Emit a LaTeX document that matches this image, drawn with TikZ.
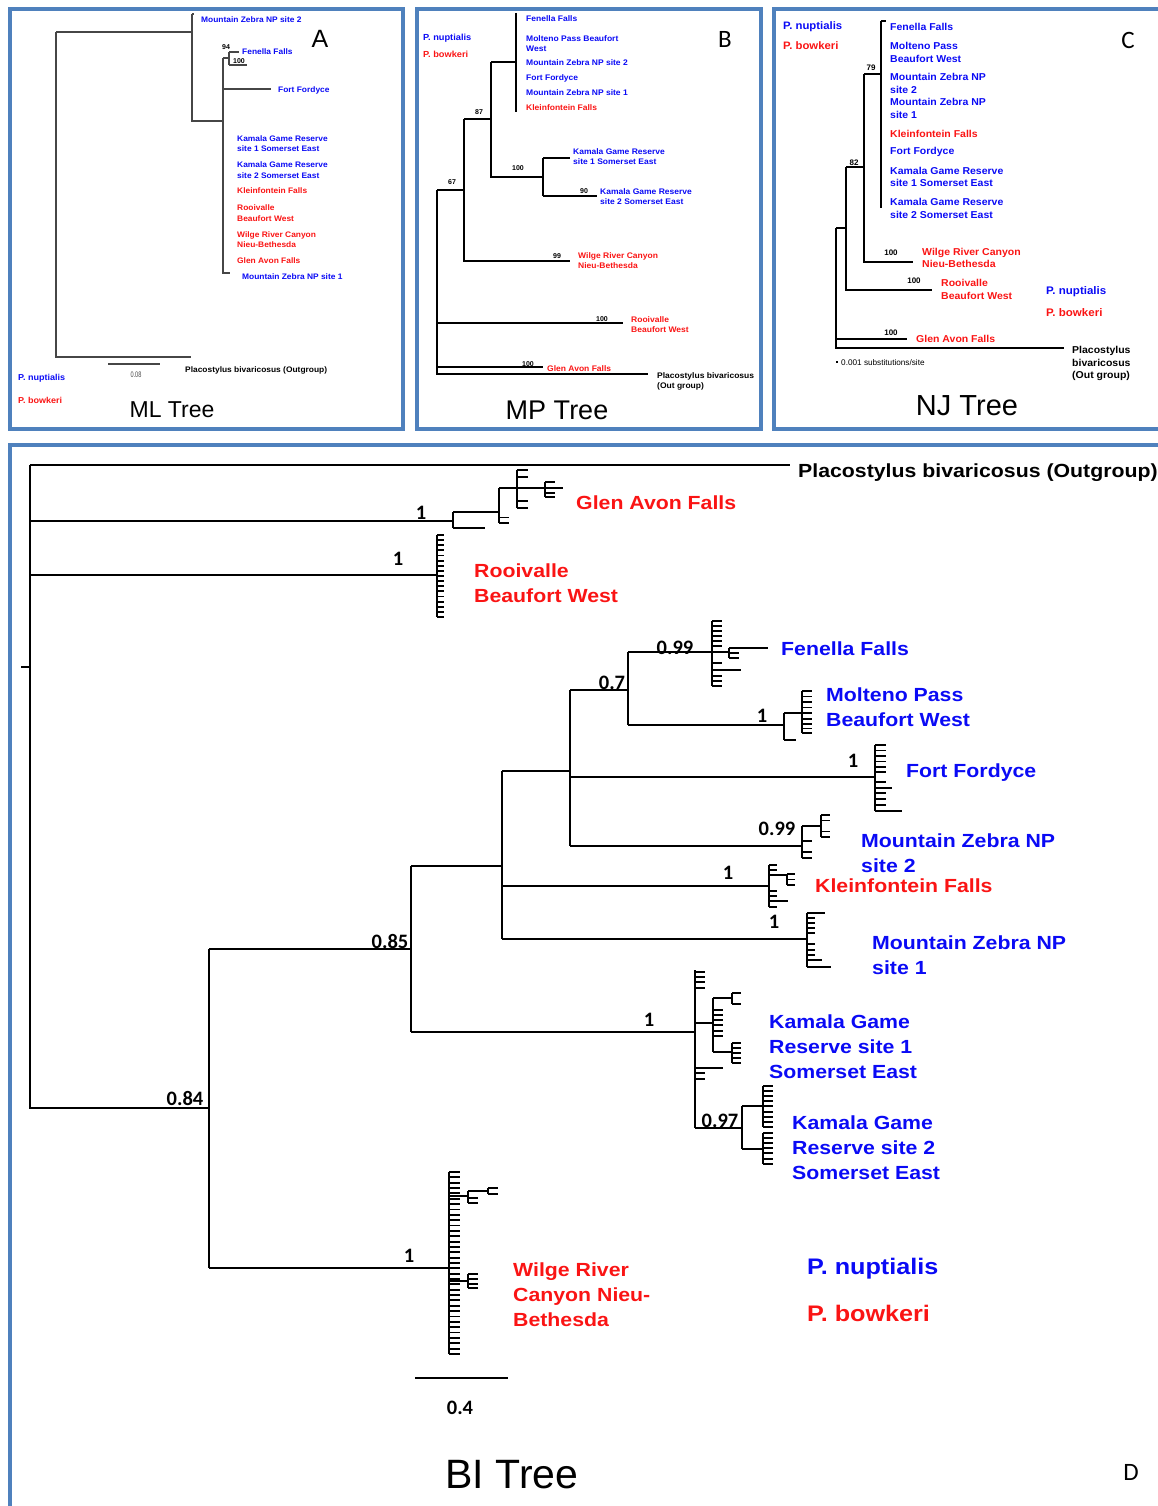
\documentclass[tikz,border=0pt]{standalone}
\usepackage{fontspec}
\setmainfont{Liberation Sans}
\newfontfamily\carlito{Carlito}
\newfontfamily\widesans[FakeStretch=1.12]{Liberation Sans}
\newfontfamily\smallsans[FakeStretch=1.05]{Liberation Sans}
\definecolor{nupblue}{RGB}{10,10,245}
\definecolor{bowred}{RGB}{250,20,20}
\definecolor{frameblue}{RGB}{79,129,189}
\definecolor{mlgray}{RGB}{70,70,70}
\newcommand\setfs[2]{\fontsize{#1}{#2}\selectfont}
% short horizontal ticks of a comb: x start, x end, list of y
\newcommand\tickset[3]{\foreach \yy in {#3}{\draw (#1,\yy) -- (#2,\yy);}}

\begin{document}
\begin{tikzpicture}[x=1pt,y=-1pt,
  frame/.style={draw=frameblue,line width=4pt},
  nup/.style={text=nupblue},
  bow/.style={text=bowred},
  blk/.style={text=black},
  labA/.style={anchor=west,inner sep=0pt,align=left,font=\smallsans\bfseries\setfs{8}{10.5}},
  labB/.style={anchor=west,inner sep=0pt,align=left,font=\smallsans\bfseries\setfs{8.1}{10}},
  labC/.style={anchor=west,inner sep=0pt,align=left,font=\smallsans\bfseries\setfs{10}{12.5}},
  labD/.style={anchor=west,inner sep=0pt,align=left,font=\widesans\bfseries\setfs{19}{25.3}},
  supS/.style={inner sep=0pt,font=\bfseries\setfs{7}{8}},
  supC/.style={inner sep=0pt,font=\bfseries\setfs{8}{9}},
  supD/.style={inner sep=0pt,font=\carlito\bfseries\setfs{20.5}{22}},
  treetitle/.style={inner sep=0pt,font=\setfs{23}{26}},
  panel/.style={inner sep=0pt,font=\setfs{25}{28}},
  panelC/.style={inner sep=0pt,font=\carlito\setfs{25}{28}},
  thin tree/.style={line width=1.1pt},
  bold tree/.style={line width=1.9pt},
]
\useasboundingbox (0,0) rectangle (1157,1506);

% ---------- panel frames ----------
\draw[frame] (10,9) rectangle (403,429);
\draw[frame] (417,9) rectangle (761,429);
\draw[frame] (1170,9) -- (774,9) -- (774,429) -- (1170,429);
\draw[frame] (10,1520) -- (10,445) -- (1170,445);

% ---------- A: ML tree ----------
\begin{scope}[thin tree,draw=mlgray]
  \coordinate (aR) at (56,32);
  \coordinate (aN1) at (192,32);
  \coordinate (aN2) at (223,121);
  \draw (aR) -- (aN1);
  \draw (aR) -- (56,357) -- (191,357);
  \draw (192,14) -- (194,14);
  \draw (192,14) -- (192,121) -- (aN2);
  \draw (223,58) -- (223,273) -- (230,273);
  \draw (223,58) -- (229,58);
  \draw (229,52) -- (229,65);
  \draw (229,52) -- (239,52);
  \draw (229,65) -- (247,65);
  \draw (223,89) -- (271,89);
  \draw (108,364) -- (160,364);
\end{scope}
\node[labA,nup] (aMZ2) at (201,20) {Mountain Zebra NP site 2};
\node[supS] (a94) at (226,47) {94};
\node[labA,nup] (aFen) at (242,52) {Fenella Falls};
\node[supS] (a100) at (239,61.5) {100};
\node[labA,nup] (aFort) at (278,90) {Fort Fordyce};
\node[labA,nup] (aKam1) at (237,143.5) {Kamala Game Reserve\\site 1 Somerset East};
\node[labA,nup] (aKam2) at (237,170) {Kamala Game Reserve\\site 2 Somerset East};
\node[labA,bow] (aKle) at (237,191) {Kleinfontein Falls};
\node[labA,bow] (aRoo) at (237,213) {Rooivalle\\Beaufort West};
\node[labA,bow] (aWil) at (237,239.5) {Wilge River Canyon\\Nieu-Bethesda};
\node[labA,bow] (aGlen) at (237,261) {Glen Avon Falls};
\node[labA,nup] (aMZ1) at (242,277) {Mountain Zebra NP site 1};
\node[inner sep=0pt,font=\setfs{8}{9},text=mlgray,xscale=0.7] (aScale) at (136,375) {0.08};
\node[labA,blk] (aOut) at (185,370) {Placostylus bivaricosus (Outgroup)};
\node[labA,nup,font=\smallsans\bfseries\setfs{8.6}{10}] (aLegN) at (18,378) {P. nuptialis};
\node[labA,bow,font=\smallsans\bfseries\setfs{8.6}{10}] (aLegB) at (18,400) {P. bowkeri};
\node[treetitle] (aTitle) at (172,410) {ML Tree};
\node[panel] (aLet) at (320,39) {A};

% ---------- B: MP tree ----------
\begin{scope}[thin tree]
  \draw (516,13) -- (516,112);
  \draw (491,62) -- (516,62);
  \draw (491,62) -- (491,177) -- (543,177);
  \draw (543,158) -- (543,196);
  \draw (543,158) -- (570,158);
  \draw (543,196) -- (597,196);
  \draw (464,119) -- (491,119);
  \draw (464,119) -- (464,261) -- (570,261);
  \draw (437,190) -- (464,190);
  \draw (437,190) -- (437,374) -- (648,374);
  \draw (437,323) -- (623,323);
  \draw (437,367) -- (543,367);
\end{scope}
\node[supS] (b87) at (479,112) {87};
\node[supS] (b100a) at (518,168) {100};
\node[supS] (b90) at (584,191) {90};
\node[supS] (b99) at (557,256) {99};
\node[supS] (b67) at (452,182) {67};
\node[supS] (b100b) at (602,319) {100};
\node[supS] (b100c) at (528,364) {100};
\node[labB,nup] (bFen) at (526,19) {Fenella Falls};
\node[labB,nup] (bMol) at (526,44) {Molteno Pass Beaufort\\West};
\node[labB,nup] (bMZ2) at (526,63) {Mountain Zebra NP site 2};
\node[labB,nup] (bFort) at (526,78) {Fort Fordyce};
\node[labB,nup] (bMZ1) at (526,93) {Mountain Zebra NP site 1};
\node[labB,bow] (bKle) at (526,108) {Kleinfontein Falls};
\node[labB,nup] (bKam1) at (573,157) {Kamala Game Reserve\\site 1 Somerset East};
\node[labB,nup] (bKam2) at (600,196.5) {Kamala Game Reserve\\site 2 Somerset East};
\node[labB,bow] (bWil) at (578,261) {Wilge River Canyon\\Nieu-Bethesda};
\node[labB,bow] (bRoo) at (631,325) {Rooivalle\\Beaufort West};
\node[labB,bow] (bGlen) at (547,369) {Glen Avon Falls};
\node[labB,blk] (bOut) at (657,381) {Placostylus bivaricosus\\(Out group)};
\node[labB,nup,font=\smallsans\bfseries\setfs{8.8}{10}] (bLegN) at (423,38) {P. nuptialis};
\node[labB,bow,font=\smallsans\bfseries\setfs{8.8}{10}] (bLegB) at (423,54) {P. bowkeri};
\node[treetitle,font=\setfs{27}{30}] (bTitle) at (557,410) {MP Tree};
\node[panelC] (bLet) at (725,39) {B};

% ---------- C: NJ tree ----------
\begin{scope}[thin tree]
  \draw (881,21) -- (886,21);
  \draw (881,21) -- (881,208);
  \draw (864,74) -- (881,74);
  \draw (864,74) -- (864,262) -- (913,262);
  \draw (846,167) -- (864,167);
  \draw (846,167) -- (846,290) -- (932,290);
  \draw (836,228) -- (846,228);
  \draw (836,228) -- (836,348) -- (1064,348);
  \draw (836,339) -- (907,339);
  \draw (836,362) -- (838,362);
\end{scope}
\node[supC] (c79) at (871,68) {79};
\node[supC] (c82) at (854,163) {82};
\node[supC] (c100a) at (891,253) {100};
\node[supC] (c100b) at (914,281) {100};
\node[supC] (c100c) at (891,333) {100};
\node[labC,nup] (cFen) at (890,27) {Fenella Falls};
\node[labC,nup] (cMol) at (890,52.5) {Molteno Pass\\Beaufort West};
\node[labC,nup] (cMZ2) at (890,83.5) {Mountain Zebra NP\\site 2};
\node[labC,nup] (cMZ1) at (890,108.5) {Mountain Zebra NP\\site 1};
\node[labC,bow] (cKle) at (890,134) {Kleinfontein Falls};
\node[labC,nup] (cFort) at (890,152) {Fort Fordyce};
\node[labC,nup] (cKam1) at (890,177) {Kamala Game Reserve\\site 1 Somerset East};
\node[labC,nup] (cKam2) at (890,208.5) {Kamala Game Reserve\\site 2 Somerset East};
\node[labC,bow] (cWil) at (922,258) {Wilge River Canyon\\Nieu-Bethesda};
\node[labC,bow] (cRoo) at (941,289.5) {Rooivalle\\Beaufort West};
\node[labC,bow] (cGlen) at (916,339) {Glen Avon Falls};
\node[labC,blk] (cOut) at (1072,363.5) {Placostylus\\bivaricosus\\(Out group)};
\node[anchor=west,inner sep=0pt,font=\setfs{8.2}{9}] (cScale) at (841,363) {0.001 substitutions/site};
\node[labC,nup,font=\smallsans\bfseries\setfs{10.8}{12}] (cLegN) at (783,27) {P. nuptialis};
\node[labC,bow,font=\smallsans\bfseries\setfs{10.8}{12}] (cLegB) at (783,46) {P. bowkeri};
\node[labC,nup,font=\smallsans\bfseries\setfs{11}{12}] (cLegN2) at (1046,292) {P. nuptialis};
\node[labC,bow,font=\smallsans\bfseries\setfs{11}{12}] (cLegB2) at (1046,313) {P. bowkeri};
\node[treetitle,font=\setfs{29}{32}] (cTitle) at (967,406) {NJ Tree};
\node[panelC] (cLet) at (1128,40) {C};

% ---------- D: BI tree ----------
\begin{scope}[bold tree]
  % backbone
  \coordinate (dRoot) at (30,465);
  \coordinate (d084) at (209,1108);
  \coordinate (d085) at (411,949);
  \coordinate (dIn) at (502,866);
  \coordinate (d07) at (570,771);
  \coordinate (d099) at (628,690);
  \draw (21,667) -- (30,667);
  \draw (dRoot) -- (30,1108) -- (d084);
  \draw (dRoot) -- (790,465);
  \draw (209,949) -- (209,1268);
  \draw (209,949) -- (d085);
  \draw (411,866) -- (411,1032);
  \draw (411,866) -- (dIn);
  \draw (502,771) -- (502,939);
  \draw (502,771) -- (d07);
  \draw (570,690) -- (570,846);
  \draw (570,690) -- (d099);
  \draw (628,652) -- (628,725);

  % Glen Avon Falls
  \draw (30,521) -- (453,521);
  \draw (453,512) -- (453,528);
  \draw (453,528) -- (485,528);
  \draw (453,512) -- (499,512);
  \draw (499,488) -- (499,523);
  \tickset{499}{509}{517.5,523}
  \draw (499,488) -- (517,488);
  \draw (517,470) -- (517,508);
  \tickset{517}{528}{470,477,501,508}
  \draw (517,488) -- (563,488);
  \draw (545,482) -- (545,497);
  \tickset{545}{555}{482,493,497}

  % Rooivalle Beaufort West
  \draw (30,575) -- (437,575);
  \draw (437,535) -- (437,617);
  \foreach \i in {0,...,16} \draw (437,535+\i*5.125) -- (444,535+\i*5.125);

  % Fenella Falls
  \draw (628,652) -- (712,652);
  \draw (712,621) -- (712,686);
  \tickset{712}{722}{621,626,631,636,641,646,663,676,681,686}
  \draw (712,670) -- (741,670);
  \draw (712,652) -- (729,652);
  \draw (729,648) -- (729,658);
  \draw (729,648) -- (768,648);
  \tickset{729}{739}{653,658}

  % Molteno Pass Beaufort West
  \draw (628,725) -- (784,725);
  \draw (784,713) -- (784,740);
  \draw (784,713) -- (802,713);
  \draw (784,740) -- (796,740);
  \draw (802,691) -- (802,733);
  \tickset{802}{812}{691,696.5,702,707.5,713,719,724,728.5,733}

  % Fort Fordyce
  \draw (570,777) -- (875,777);
  \draw (875,745) -- (875,811);
  \tickset{875}{886}{745,750.5,756,761.5,767,772,782,793,799,805}
  \draw (875,788) -- (892,788);
  \draw (875,811) -- (902,811);

  % Mountain Zebra NP site 2
  \draw (570,846) -- (802,846);
  \draw (802,826) -- (802,858);
  \draw (802,826) -- (821,826);
  \draw (821,815) -- (821,837);
  \tickset{821}{830}{815,820.5,831.5,837}
  \tickset{802}{812}{841,852,858}

  % Kleinfontein Falls
  \draw (502,886) -- (769,886);
  \draw (769,865) -- (769,907);
  \tickset{769}{777}{865,870,891,896,907}
  \draw (769,901) -- (788,901);
  \draw (769,875) -- (787,875);
  \draw (787,874) -- (787,885);
  \tickset{787}{795}{874,879.5,885}

  % Mountain Zebra NP site 1
  \draw (502,939) -- (807,939);
  \draw (807,913) -- (807,967);
  \draw (807,913) -- (825,913);
  \tickset{807}{815}{918,923,928,933,944,950,955}
  \draw (807,960) -- (822,960);
  \draw (807,967) -- (831,967);

  % Kamala Game Reserve sites 1 and 2
  \draw (411,1032) -- (695,1032);
  \draw (695,970) -- (695,1128);
  \tickset{695}{705}{972,977,982,988,1073,1079}
  \draw (695,1068) -- (723,1068);
  \draw (695,1023) -- (713,1023);
  \draw (713,998) -- (713,1052);
  \draw (713,998) -- (732,998);
  \draw (732,993) -- (732,1004);
  \tickset{732}{741}{993,1004}
  \tickset{713}{723}{1010,1015,1020,1025,1031,1036}
  \draw (713,1052) -- (732,1052);
  \draw (732,1043) -- (732,1063);
  \tickset{732}{741}{1043,1048,1053,1058,1063}
  \draw (695,1128) -- (742,1128);
  \draw (742,1106) -- (742,1149);
  \draw (742,1106) -- (763,1106);
  \draw (763,1086) -- (763,1127);
  \tickset{763}{773}{1086,1091,1096,1101,1106,1112,1117,1122,1127}
  \draw (742,1149) -- (763,1149);
  \draw (763,1133) -- (763,1164);
  \tickset{763}{773}{1133,1138,1143,1148,1153,1159,1164}

  % Wilge River Canyon Nieu-Bethesda
  \draw (209,1268) -- (449,1268);
  \draw (449,1172) -- (449,1354);
  \foreach \i in {0,...,34} \draw (449,1172+\i*5.35) -- (460,1172+\i*5.35);
  \draw (449,1196) -- (468,1196);
  \draw (468,1191) -- (468,1203);
  \draw (468,1191) -- (488,1191);
  \draw (488,1188) -- (488,1194);
  \tickset{488}{498}{1188,1194}
  \tickset{468}{478}{1198,1203}
  \draw (449,1281) -- (468,1281);
  \draw (468,1274) -- (468,1288);
  \tickset{468}{478}{1274,1279,1284,1288}

  % scale bar
  \draw (415,1378) -- (508,1378);
\end{scope}

% support values
\node[supD] (dS1) at (421,513) {1};
\node[supD] (dS2) at (398,559) {1};
\node[supD] (dS3) at (675,648) {0.99};
\node[supD] (dS4) at (612,683) {0.7};
\node[supD] (dS5) at (762,716) {1};
\node[supD] (dS6) at (853,761) {1};
\node[supD] (dS7) at (777,829) {0.99};
\node[supD] (dS8) at (728,873) {1};
\node[supD] (dS9) at (774,922) {1};
\node[supD] (dS10) at (390,941) {0.85};
\node[supD] (dS11) at (649,1020) {1};
\node[supD] (dS12) at (720,1121) {0.97};
\node[supD] (dS13) at (185,1098) {0.84};
\node[supD] (dS14) at (409,1256) {1};
\node[supD] (dScale) at (460,1408) {0.4};

% population labels
\node[labD,blk] (dOut) at (798,473) {Placostylus bivaricosus (Outgroup)};
\node[labD,bow] (dGlen) at (576,503) {Glen Avon Falls};
\node[labD,bow] (dRoo) at (474,583.5) {Rooivalle\\Beaufort West};
\node[labD,nup] (dFen) at (781,649) {Fenella Falls};
\node[labD,nup] (dMol) at (826,707.5) {Molteno Pass\\Beaufort West};
\node[labD,nup] (dFort) at (906,773) {Fort Fordyce};
\node[labD,nup] (dMZ2) at (861,853.5) {Mountain Zebra NP\\site 2};
\node[labD,bow] (dKle) at (815,886) {Kleinfontein Falls};
\node[labD,nup] (dMZ1) at (872,955) {Mountain Zebra NP\\site 1};
\node[labD,nup] (dKam1) at (769,1046.5) {Kamala Game\\Reserve site 1\\Somerset East};
\node[labD,nup] (dKam2) at (792,1147.5) {Kamala Game\\Reserve site 2\\Somerset East};
\node[labD,bow] (dWil) at (513,1294.5) {Wilge River\\Canyon Nieu-\\Bethesda};
\node[labD,nup,font=\widesans\bfseries\setfs{22.5}{26}] (dLegN) at (807,1268.5) {P. nuptialis};
\node[labD,bow,font=\widesans\bfseries\setfs{22.5}{26}] (dLegB) at (807,1313.5) {P. bowkeri};
\node[inner sep=0pt,font=\setfs{41}{44}] (dTitle) at (512,1475) {BI Tree};
\node[panelC] (dLet) at (1131,1472) {D};
\end{tikzpicture}
\end{document}
